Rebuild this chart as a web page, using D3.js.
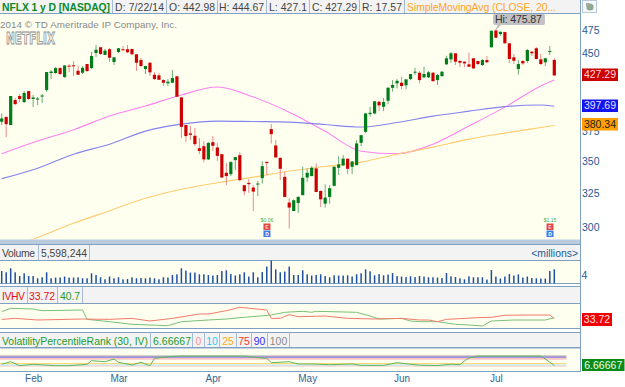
<!DOCTYPE html>
<html><head><meta charset="utf-8">
<script src="https://cdn.jsdelivr.net/npm/d3@7"></script>
<style>
html,body{margin:0;padding:0;background:#fff;overflow:hidden}
svg{display:block}
text{font-family:"Liberation Sans",Arial,sans-serif}
</style></head><body><div id="c"></div>
<script>
const opens=[383.6,387.8,380.7,403.5,407.3,401.6,412,404.5,404,406.8,413,429.7,429.7,434.7,425.7,437.1,437.5,432,430,438.8,434.7,450.2,456.3,448.2,454.2,440.9,451.3,454.2,454.2,454.5,448.9,442.9,433.7,440.1,428,427.4,422.7,419.5,420.1,426.4,406,380.7,373.3,371.3,360.7,362.4,351.4,365.8,361.3,355.7,340.6,339.5,350.8,354.9,330.9,332.7,329.1,331.4,336.4,349.4,377.1,363,352.7,337.4,317.8,311.6,317.5,323.3,336.9,338,344.1,326.5,317,322,330.4,344.6,346.5,352,345.4,346.7,365.2,374.7,390.5,391.1,401.9,397.2,402.8,415.2,419.5,420.1,417.6,423.7,430,430,425.4,425.4,430,422.7,426.7,438.5,443.6,449.9,441.9,441.2,438.5,444.7,441.9,437.8,442.9,456.3,474.5,470.5,472.7,460.5,445.7,433.7,441.9,441.9,451.6,455.2,443.6,440.6,451.6,442.98];
const closes=[386.6,381.5,407.3,399.7,404.5,410.2,404.5,405.9,404.9,407.8,430.7,431.2,434.7,428.7,437.3,436.1,436.5,428,435,431.7,447.1,453.7,449.2,452.7,445.3,445.7,455.2,453.4,451,448.9,440.1,436.8,436.8,430.4,423.7,423,420.1,421.1,424.7,406.6,379.1,371,372.1,364.1,358.4,351.4,365.2,362.7,354.3,336.9,338,349.2,353.3,334.8,326.3,331.7,326,332.2,345.9,348.4,372.7,353,343.8,322,314.1,319.5,322,336.6,340.6,344.6,325.7,320.2,321.5,328.6,345.4,347.3,352,343.8,349.7,364.7,371.8,391.1,391.7,402.3,398.5,401.6,415.2,417.9,422,416.9,423.4,428.7,431,422.7,428.7,430.4,421.7,427.7,431,444.7,449.9,441.2,440.1,439.5,436.1,434.4,438.8,442.9,440.6,474.2,466.5,473,460.5,444,442.2,438.8,439.5,453.4,449.9,444,438.8,444.7,452.4,427.29];
const highs=[391.1,388.7,407.3,405.4,409.2,412,412,408.3,406.4,409.2,430.7,432.7,435.8,435.8,437.8,438.8,441.9,436.8,436.8,438.8,451.3,458.7,456.6,454.5,455.5,446.1,455.5,457.6,458.7,454.5,449.2,445,436.8,440.9,430.7,429.7,423.7,423.7,432.7,426.7,406.4,380.7,379.9,378,369.2,366.7,365.8,371,365,355.7,348.4,350,353.3,357.4,330.9,335.6,330.9,334.3,350,349.4,381.5,367.5,352.7,341.4,321,320.2,322.5,345.4,344.3,345.9,348.1,327,331.6,330.9,345.9,354,354.9,352,350,367.5,371.8,391.4,397.2,402.6,402.6,405.4,415.9,422.7,423.7,426,423.7,428.7,435,431.7,436,431.7,430.7,428.7,431.7,447.4,451.3,450.2,442.9,441.6,450.6,445,442.2,444,447.1,474.2,475.87,473.4,473,460.8,449.2,442.9,442.9,454.5,452.4,456.6,449.2,445,457.6,444.67];
const lows=[380.6,370.1,380.7,398.8,401.6,400.7,403.5,396.9,398.8,400.7,411.1,423.7,428.7,427.7,424.7,430.7,426.7,427.7,428.7,430.7,433.7,446.1,448.2,448.2,440.9,437.8,450.2,452.4,450.2,448.2,431.7,435.8,428.7,426.7,422.7,422.7,416.9,416.9,419.8,406.4,369.2,366.1,367.5,362.4,355.7,349.2,350.8,358.2,350.2,336.4,330.9,338,342.7,334,323.3,325,311.6,322.5,332.2,338.8,364.7,353,334.8,321.8,299.1,311.4,310.2,323.3,333.5,338,325.5,314.5,314.1,317,330.1,338.8,345.9,339.5,339.5,346.7,362.4,373.6,388.1,390.5,393.2,393.2,399.7,411.4,414.6,413.7,413.7,422.7,427.7,419.5,424.7,424.7,420.8,417.9,425.7,437.8,439.9,437.8,435.8,435.5,435.8,433.7,437.8,436.8,439.9,455.9,466.2,468.4,460.4,439.9,438.8,428,437.8,439.9,447.1,443.6,437.8,436.8,448.2,427.1];
const volumes=[4.9,4.4,6,4.4,2.9,4,2.9,2.9,2,2.4,4.4,2,2.3,2.3,2.7,2.3,2.3,2.4,2,2,4,3.3,2.4,1.6,2.7,2,2.4,1.6,1.7,2.4,2,2.1,2,2.3,2,1.6,2.4,2.3,3.3,3.6,6,5.1,4.3,4.3,3.6,3.6,3.3,3.1,3.3,4.9,5.2,3.7,3.1,3.6,4.4,2.7,4.4,2.4,4.5,6.7,9.1,5.6,4.4,4.7,6.7,3.3,3.3,5.2,3.6,3.1,3.3,3.6,2.9,2.4,3.2,3.1,3.1,3.2,2.7,3.6,4,5.6,4.8,3.2,3.7,3.2,3.5,4.1,2.9,2.7,2.5,2.8,2.5,2.9,2.7,2.4,2.4,2.3,2.1,4.1,2.8,2.5,2,1.6,2.8,2.4,2.4,2.4,1.5,5.3,2.7,1.9,2.7,3.7,3.1,3.6,2.3,2.7,2.1,2,1.9,1.9,4.9,5.6];

const maBars=[0,8,16,24,32,40,48,56,64,72,80,88,96,104,112,120,123];
const sma20=[356.1,366.7,376.6,388.7,397.9,408.3,415.9,406.4,392.3,375.3,358.2,356.1,364.1,379.8,396.9,416.9,422.7];
const sma50=[336,344.3,355.7,364.1,375.3,381.5,384.2,383.8,383.3,381.1,378.9,382.9,388.7,393.2,397.4,398.8,397.69];
const sma200=[283.7,293,302.8,311.8,321,327.8,332.8,337.2,342,345.6,349.2,355.7,361.6,368.4,373.6,378.5,380.34];

const ivBars=[0,3,8,18,24,29,33,38,44,46,50,53,59,60,62,64,66,72,77,83,89,93,95,97,99,106,109,112,117,122,123];
const ivValues=[32.4,34.4,31.1,33.1,32.4,34.4,29.1,34.4,43.1,43.1,49.8,56.5,51.1,34.4,34.4,41.8,37.8,39.1,34.4,33.1,34.4,31.1,31.1,27.8,32.4,35.8,36.5,40.5,41.1,41.1,33.72];
const hvBars=[0,2,7,9,18,19,24,29,37,40,46,50,54,60,63,67,69,70,79,82,84,89,91,93,97,101,104,107,109,114,121,123];
const hvValues=[47.8,54.5,53.1,49.8,51.1,32.4,27.8,22.5,19.8,27.8,31.1,33.1,36.5,41.1,46.5,48.5,46.5,48.5,46.5,39.1,33.1,34.4,29.1,27.8,27.8,22.5,21.1,19.1,29.1,31.1,31.1,35.8];
const rankBars=[0,2,4,7,12,15,19,20,23,25,26,29,31,33,34,37,40,54,57,59,60,64,66,69,73,78,80,85,88,93,97,100,102,103,104,106,120,121,123];
const rankValues=[17,43,3,17,3,3,17,53,43,70,37,10,37,3,77,93,100,100,83,77,33,43,20,20,13,20,6,6,33,8,4,18,13,50,80,100,100,70,6.67];
const rankLevels=[0,10,25,75,90,100];
const rankColors=["#ffc0c0","#aee4f0","#ffd878","#ffb4b4","#8a78e8","#a8a8a8"];

const priceTicks=[300,325,350,375,450,475];
const monthBars=[7,26,47,68,89,110];
const monthLabels=["Feb","Mar","Apr","May","Jun","Jul"];
const dividendBars=[59,122];
const dividendLabels=["$0.06","$1.15"];

const W=625,H=387,R=580.5;
const svg=d3.select("#c").append("svg").attr("width",W).attr("height",H);
const BG="#fffff0",HDR="#f3f3f3",EDGE="#7fa0c0",TXT="#444",AX="#1f5a96";
const defs=svg.append("defs");
defs.append("clipPath").attr("id","mainClip").append("rect").attr("x",0).attr("y",14).attr("width",R).attr("height",225.5);

const x=d3.scaleLinear().domain([0,123]).range([1.7,554.3]);
const y=d3.scaleLog().domain([300,475]).range([227.3,30]);
const yVol=d3.scaleLinear().domain([0,4]).range([283.3,273.3]);
const yIv=d3.scaleLinear().domain([33.72,53.72]).range([318.7,308.7]);
const yRank=d3.scaleLinear().domain([0,100]).range([366,356]);

function rect(a,b,c,d,f,s){return svg.append("rect").attr("x",a).attr("y",b).attr("width",c-a).attr("height",d-b).attr("fill",f).attr("stroke",s||"none");}
function label(t,xx,yy,o){o=o||{};const e=svg.append("text").attr("x",xx).attr("y",yy).attr("dy","0.35em").attr("font-size",o.s||10.4).attr("fill",o.f||TXT).attr("font-weight",o.w||"normal").attr("text-anchor",o.a||"start").text(t);if(o.l)e.attr("textLength",o.l).attr("lengthAdjust","spacing");return e;}
function hline(yy,c,x2,w){svg.append("line").attr("x1",0).attr("x2",x2||R).attr("y1",yy).attr("y2",yy).attr("stroke",c||EDGE).attr("stroke-width",w||1);}
function vsep(xx,a,b){svg.append("line").attr("x1",xx).attr("x2",xx).attr("y1",a).attr("y2",b).attr("stroke","#a4bcd4");}

// top header
rect(0,0,R,13.5,HDR);
[112.5,166.5,217.5,266.5,309.5,359.5,404.5].forEach(v=>vsep(v,0,13));
label("NFLX 1 y D [NASDAQ]",2,7,{f:"#0a8a2a",w:"bold",l:108});
label("D: 7/22/14",115,7,{l:49});
label("O: 442.98",169,7,{l:46});
label("H: 444.67",219,7,{l:45});
label("L: 427.1",269,7,{l:38});
label("C: 427.29",312,7,{l:45});
label("R: 17.57",362,7,{l:40});
label("SimpleMovingAvg (CLOSE, 20...",407,7,{f:"#ffa520",l:149});

// main panel
rect(0,14,R,239.5,BG);
hline(13.5,EDGE);
label("2014 © TD Ameritrade IP Company, Inc.",0,24.5,{f:"#888",s:9.8,l:177});
svg.append("text").attr("x",6).attr("y",44).attr("font-size",15).attr("font-weight","bold")
  .attr("fill","#f4f4ee").attr("stroke","#8c8c8c").attr("stroke-width",.8)
  .attr("textLength",49).attr("lengthAdjust","spacingAndGlyphs")
  .style("font-family","'DejaVu Sans Condensed','Liberation Sans Narrow',sans-serif").text("NETFLIX");

const main=svg.append("g").attr("clip-path","url(#mainClip)");
const maLine=(vals)=>d3.line().x((d,i)=>x(maBars[i])).y(d=>y(d)).curve(d3.curveMonotoneX)(vals);
[[sma20,"#ff80f0"],[sma50,"#8484f0"],[sma200,"#ffcc70"]].forEach(([v,c])=>{
  main.append("path").attr("d",maLine(v)).attr("fill","none").attr("stroke",c).attr("stroke-width",1.1);
});
const idx=d3.range(opens.length);
const col=i=>closes[i]>=opens[i]?"#007d1a":"#cc0000";
const wickCol=i=>closes[i]>=opens[i]?"#6aae72":"#e88a8a";
main.selectAll("line.w").data(idx).join("line").attr("class","w")
  .attr("x1",x).attr("x2",x).attr("y1",i=>y(highs[i])).attr("y2",i=>y(lows[i]))
  .attr("stroke",wickCol).attr("stroke-width",1);
main.selectAll("rect.b").data(idx).join("rect").attr("class","b")
  .attr("x",i=>x(i)-1.6).attr("width",3.2)
  .attr("y",i=>y(Math.max(opens[i],closes[i])))
  .attr("height",i=>Math.max(1,Math.abs(y(opens[i])-y(closes[i]))))
  .attr("fill",col);

// dividend markers
dividendBars.forEach((b,k)=>{
  const cx=x(b)+0.2;
  label(dividendLabels[k],cx,220.5,{s:5,f:"#4aa84a",a:"middle"});
  rect(cx-3.5,223.5,cx+3.5,230,"#e04848");
  label("E",cx,226.8,{s:5,f:"#ffd0d0",a:"middle",w:"bold"});
  rect(cx-3.5,230.5,cx+3.5,237,"#3a7ce8");
  label("D",cx,233.8,{s:5,f:"#ffffff",a:"middle",w:"bold"});
});

// Hi tag
const hx=x(110);
svg.append("path").attr("d",`M${hx+2},25 L${hx-1},31 L${hx+5},25 Z`).attr("fill","#b8b8b8");
svg.append("rect").attr("x",493).attr("y",14).attr("width",52).attr("height",11).attr("rx",2).attr("fill","#c2c2c2");
label("Hi: 475.87",495,19.3,{f:"#333",s:10.6,l:47});

// strip between
rect(0,239.5,R,244,"#b9cbdd");

// volume
rect(0,244.5,R,260,HDR);
rect(0,260,R,283.5,BG);
hline(244.5);hline(260.5);hline(283.5);
vsep(38.5,245,260);vsep(89.5,245,260);
label("Volume",2,253,{l:33});
label("5,598,244",41,253,{l:46});
label("<millions>",578,253,{a:"end",f:AX});
svg.selectAll("rect.v").data(idx).join("rect").attr("class","v")
  .attr("x",i=>x(i)-.75).attr("width",1.5).attr("y",i=>yVol(volumes[i])).attr("height",i=>yVol(0)-yVol(volumes[i])).attr("fill","#1f4fa0");

// IVHV
rect(0,284,R,287,"#fff");
rect(0,287,R,303,HDR);
rect(0,303,R,328,BG);
hline(286.5);hline(303.5);hline(328.5);
vsep(27.5,287,303);vsep(57.5,287,303);vsep(82.5,287,303);
label("IVHV",2,296,{f:"#e81010",l:23});
label("33.72",29,296,{f:"#e81010",l:26});
label("40.7",60,296,{f:"#1c9a2c",l:20});
const ivLine=(bars,vals)=>d3.line().x((d,i)=>x(bars[i])).y(d=>yIv(d))(vals);
svg.append("path").attr("d",ivLine(hvBars,hvValues)).attr("fill","none").attr("stroke","#78c078").attr("stroke-width",1);
svg.append("path").attr("d",ivLine(ivBars,ivValues)).attr("fill","none").attr("stroke","#f47a6a").attr("stroke-width",1);

// Rank
rect(0,329,R,332,"#fff");
rect(0,332,R,347.5,HDR);
rect(0,347.5,R,349,"#c4d2e0");
rect(0,349,R,371,BG);
hline(332.5);hline(347.5);hline(371.5);
[150.5,192.5,204.5,219.5,236.5,251.5,267.5,289.5].forEach(v=>vsep(v,332,347));
label("VolatilityPercentileRank (30, IV)",2,341,{f:"#1c9a2c",l:146});
label("6.66667",153,341,{f:"#1c9a2c",l:38});
const lvX=[198.5,212,228,244,259.5,278.5];
const lvC=["#ff9090","#30c8f0","#ffa820","#ff3030","#3030f0","#888888"];
rankLevels.forEach((v,k)=>label(String(v),lvX[k],341,{f:lvC[k],a:"middle"}));
rect(0,yRank(75)-.9,R-14,yRank(75)+1.2,"#ffc4c0");
rankLevels.forEach((v,k)=>{
  if(v===75)return;
  svg.append("line").attr("x1",0).attr("x2",x(123)+12).attr("y1",yRank(v)).attr("y2",yRank(v)).attr("stroke",rankColors[k]).attr("stroke-width",v===90?1.6:1);
});
svg.append("path").attr("d",d3.line().x((d,i)=>x(rankBars[i])).y(d=>yRank(d))(rankValues)).attr("fill","none").attr("stroke","#5cb85c").attr("stroke-width",1);

// right edge and axes
svg.append("line").attr("x1",R).attr("x2",R).attr("y1",0).attr("y2",372).attr("stroke",EDGE);
const yAxis=svg.append("g").attr("transform",`translate(${R},0)`).call(d3.axisRight(y).tickValues(priceTicks).tickFormat(d3.format("d")).tickSize(0).tickPadding(1.5));
yAxis.select(".domain").remove();
yAxis.selectAll("text").attr("fill",AX).attr("font-size",10.5).style("font-family","'Liberation Sans',Arial,sans-serif");
const xAxis=svg.append("g").attr("transform","translate(0,372)").call(d3.axisBottom(x).tickValues(monthBars).tickFormat((d,i)=>monthLabels[i]).tickSize(0).tickPadding(3));
xAxis.select(".domain").remove();
xAxis.selectAll("text").attr("fill","#35658f").attr("font-size",10).style("font-family","'Liberation Sans',Arial,sans-serif");
label("4",581.5,275,{f:AX,s:10.5});

function tag(t,a,b,c,bg,fg){rect(582,a,c,b,bg);label(t,(582+c)/2,(a+b)/2,{f:fg,a:"middle",s:10.5});}
tag("427.29",68.5,81,618,"#cc0000","#ffd8d8");
tag("397.69",99.5,112,618,"#1414f0","#e0e0ff");
tag("380.34",118,130.5,618,"#ffa000","#222");
tag("33.72",313,326,612,"#f00000","#ffe0e0");
tag("6.66667",359,371,624.5,"#0c8a18","#e8ffe8");

// top right icon
rect(582.5,.5,596.5,12.5,"#f4f6f8","#b8c8dc");
svg.append("circle").attr("cx",590).attr("cy",7).attr("r",3.6).attr("fill","#8ea890");
svg.append("rect").attr("x",586).attr("y",3).attr("width",3).attr("height",3).attr("fill","#a8a8a0");
</script></body></html>
